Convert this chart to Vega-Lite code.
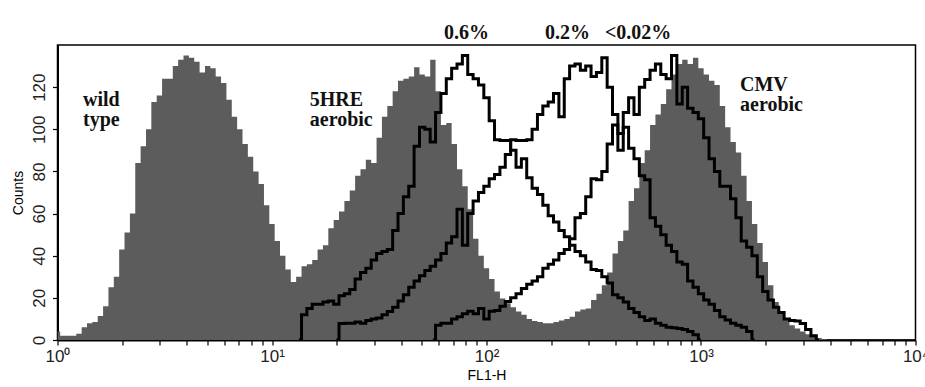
{
  "$schema": "https://vega.github.io/schema/vega-lite/v6.json",
  "width": 858,
  "height": 295,
  "autosize": {"type": "none"},
  "padding": {"left": 57.5, "top": 45, "right": 10, "bottom": 47},
  "background": "white",
  "config": {
    "view": {"stroke": "#000", "strokeWidth": 1.5},
    "axis": {
      "grid": false,
      "domainColor": "#000",
      "domainWidth": 2,
      "tickColor": "#000",
      "tickWidth": 1.2,
      "tickSize": 5,
      "labelColor": "#222",
      "labelFont": "Liberation Sans",
      "labelFontSize": 17,
      "titleFont": "Liberation Sans",
      "titleFontSize": 14,
      "titleFontWeight": "normal",
      "titleColor": "#000",
      "labelOverlap": false,
      "labelFlush": false
    }
  },
  "datasets": {
    "filled": [
      {"FL1_H":1,"Counts":4},{"FL1_H":1.059,"Counts":2},{"FL1_H":1.122,"Counts":2},{"FL1_H":1.189,"Counts":2},{"FL1_H":1.259,"Counts":3},{"FL1_H":1.334,"Counts":6},{"FL1_H":1.413,"Counts":8},{"FL1_H":1.496,"Counts":8.5},{"FL1_H":1.585,"Counts":11.4},{"FL1_H":1.679,"Counts":16},
      {"FL1_H":1.778,"Counts":25},{"FL1_H":1.884,"Counts":30},{"FL1_H":1.995,"Counts":43},{"FL1_H":2.113,"Counts":51},{"FL1_H":2.239,"Counts":60},{"FL1_H":2.371,"Counts":84},{"FL1_H":2.512,"Counts":92},{"FL1_H":2.661,"Counts":100},{"FL1_H":2.818,"Counts":113},{"FL1_H":2.985,"Counts":116},
      {"FL1_H":3.162,"Counts":124},{"FL1_H":3.35,"Counts":124},{"FL1_H":3.548,"Counts":130},{"FL1_H":3.758,"Counts":133},{"FL1_H":3.981,"Counts":135},{"FL1_H":4.217,"Counts":134},{"FL1_H":4.467,"Counts":132},{"FL1_H":4.732,"Counts":127},{"FL1_H":5.012,"Counts":130},{"FL1_H":5.309,"Counts":129},
      {"FL1_H":5.623,"Counts":125},{"FL1_H":5.957,"Counts":122},{"FL1_H":6.31,"Counts":114},{"FL1_H":6.683,"Counts":106},{"FL1_H":7.079,"Counts":100},{"FL1_H":7.499,"Counts":93},{"FL1_H":7.943,"Counts":87},{"FL1_H":8.414,"Counts":80},{"FL1_H":8.913,"Counts":74},{"FL1_H":9.441,"Counts":64},
      {"FL1_H":10,"Counts":55},{"FL1_H":10.59,"Counts":47},{"FL1_H":11.22,"Counts":40},{"FL1_H":11.89,"Counts":33.5},{"FL1_H":12.59,"Counts":27.5},{"FL1_H":13.34,"Counts":30},{"FL1_H":14.13,"Counts":35},{"FL1_H":14.96,"Counts":36},{"FL1_H":15.85,"Counts":38},{"FL1_H":16.79,"Counts":43},
      {"FL1_H":17.78,"Counts":45},{"FL1_H":18.84,"Counts":53},{"FL1_H":19.95,"Counts":57},{"FL1_H":21.13,"Counts":61},{"FL1_H":22.39,"Counts":66},{"FL1_H":23.71,"Counts":71},{"FL1_H":25.12,"Counts":78},{"FL1_H":26.61,"Counts":81},{"FL1_H":28.18,"Counts":85.6},{"FL1_H":29.85,"Counts":84},
      {"FL1_H":31.62,"Counts":96},{"FL1_H":33.5,"Counts":106},{"FL1_H":35.48,"Counts":111},{"FL1_H":37.58,"Counts":118},{"FL1_H":39.81,"Counts":123},{"FL1_H":42.17,"Counts":124},{"FL1_H":44.67,"Counts":125},{"FL1_H":47.32,"Counts":129.5},{"FL1_H":50.12,"Counts":126},{"FL1_H":53.09,"Counts":125},
      {"FL1_H":56.23,"Counts":133},{"FL1_H":59.57,"Counts":118},{"FL1_H":63.1,"Counts":102},{"FL1_H":66.83,"Counts":103},{"FL1_H":70.79,"Counts":93},{"FL1_H":74.99,"Counts":81},{"FL1_H":79.43,"Counts":73},{"FL1_H":84.14,"Counts":62},{"FL1_H":89.13,"Counts":48},{"FL1_H":94.41,"Counts":40},
      {"FL1_H":100,"Counts":34},{"FL1_H":105.9,"Counts":29},{"FL1_H":112.2,"Counts":23},{"FL1_H":118.9,"Counts":19.7},{"FL1_H":125.9,"Counts":17.5},{"FL1_H":133.4,"Counts":15.5},{"FL1_H":141.3,"Counts":13.5},{"FL1_H":149.6,"Counts":12},{"FL1_H":158.5,"Counts":10},{"FL1_H":167.9,"Counts":9},
      {"FL1_H":177.8,"Counts":8.5},{"FL1_H":188.4,"Counts":8},{"FL1_H":199.5,"Counts":8},{"FL1_H":211.3,"Counts":8.5},{"FL1_H":223.9,"Counts":9.2},{"FL1_H":237.1,"Counts":10},{"FL1_H":251.2,"Counts":11},{"FL1_H":266.1,"Counts":13.5},{"FL1_H":281.8,"Counts":14.5},{"FL1_H":298.5,"Counts":15},
      {"FL1_H":316.2,"Counts":19},{"FL1_H":335,"Counts":22},{"FL1_H":354.8,"Counts":26},{"FL1_H":375.8,"Counts":32},{"FL1_H":398.1,"Counts":41},{"FL1_H":421.7,"Counts":47},{"FL1_H":446.7,"Counts":52},{"FL1_H":473.2,"Counts":66},{"FL1_H":501.2,"Counts":72},{"FL1_H":530.9,"Counts":84},
      {"FL1_H":562.3,"Counts":90},{"FL1_H":595.7,"Counts":102},{"FL1_H":631,"Counts":107},{"FL1_H":668.3,"Counts":112},{"FL1_H":707.9,"Counts":119},{"FL1_H":749.9,"Counts":126},{"FL1_H":794.3,"Counts":131},{"FL1_H":841.4,"Counts":133},{"FL1_H":891.3,"Counts":131},{"FL1_H":944.1,"Counts":134},
      {"FL1_H":1000,"Counts":129},{"FL1_H":1059,"Counts":126},{"FL1_H":1122,"Counts":123},{"FL1_H":1189,"Counts":121},{"FL1_H":1259,"Counts":111},{"FL1_H":1334,"Counts":101},{"FL1_H":1413,"Counts":94},{"FL1_H":1496,"Counts":89},{"FL1_H":1585,"Counts":78},{"FL1_H":1679,"Counts":66},
      {"FL1_H":1778,"Counts":55},{"FL1_H":1884,"Counts":46},{"FL1_H":1995,"Counts":37},{"FL1_H":2113,"Counts":26},{"FL1_H":2239,"Counts":18},{"FL1_H":2371,"Counts":13},{"FL1_H":2512,"Counts":9.5},{"FL1_H":2661,"Counts":7},{"FL1_H":2818,"Counts":5.5},{"FL1_H":2985,"Counts":4},
      {"FL1_H":3162,"Counts":2.7},{"FL1_H":3350,"Counts":1.8},{"FL1_H":3548,"Counts":1},{"FL1_H":3758,"Counts":0.3},{"FL1_H":3981,"Counts":0}
    ],
    "lines": [
      {"sample":"0.6%","FL1_H":13.34,"Counts":0},{"sample":"0.6%","FL1_H":14.13,"Counts":12},{"sample":"0.6%","FL1_H":14.96,"Counts":15},{"sample":"0.6%","FL1_H":15.85,"Counts":17},{"sample":"0.6%","FL1_H":16.79,"Counts":17},{"sample":"0.6%","FL1_H":17.78,"Counts":18},{"sample":"0.6%","FL1_H":18.84,"Counts":18.5},{"sample":"0.6%","FL1_H":19.95,"Counts":17},{"sample":"0.6%","FL1_H":21.13,"Counts":21},{"sample":"0.6%","FL1_H":22.39,"Counts":22},
      {"sample":"0.6%","FL1_H":23.71,"Counts":24},{"sample":"0.6%","FL1_H":25.12,"Counts":29},{"sample":"0.6%","FL1_H":26.61,"Counts":32},{"sample":"0.6%","FL1_H":28.18,"Counts":34},{"sample":"0.6%","FL1_H":29.85,"Counts":38},{"sample":"0.6%","FL1_H":31.62,"Counts":41},{"sample":"0.6%","FL1_H":33.5,"Counts":42},{"sample":"0.6%","FL1_H":35.48,"Counts":43},{"sample":"0.6%","FL1_H":37.58,"Counts":52},{"sample":"0.6%","FL1_H":39.81,"Counts":60},
      {"sample":"0.6%","FL1_H":42.17,"Counts":68},{"sample":"0.6%","FL1_H":44.67,"Counts":73},{"sample":"0.6%","FL1_H":47.32,"Counts":92},{"sample":"0.6%","FL1_H":50.12,"Counts":101},{"sample":"0.6%","FL1_H":53.09,"Counts":100},{"sample":"0.6%","FL1_H":56.23,"Counts":94},{"sample":"0.6%","FL1_H":59.57,"Counts":108},{"sample":"0.6%","FL1_H":63.1,"Counts":117},{"sample":"0.6%","FL1_H":66.83,"Counts":124},{"sample":"0.6%","FL1_H":70.79,"Counts":129},
      {"sample":"0.6%","FL1_H":74.99,"Counts":131},{"sample":"0.6%","FL1_H":79.43,"Counts":135},{"sample":"0.6%","FL1_H":84.14,"Counts":126},{"sample":"0.6%","FL1_H":89.13,"Counts":124},{"sample":"0.6%","FL1_H":94.41,"Counts":121},{"sample":"0.6%","FL1_H":100,"Counts":115},{"sample":"0.6%","FL1_H":105.9,"Counts":104},{"sample":"0.6%","FL1_H":112.2,"Counts":95},{"sample":"0.6%","FL1_H":118.9,"Counts":94.7},{"sample":"0.6%","FL1_H":125.9,"Counts":94.7},
      {"sample":"0.6%","FL1_H":133.4,"Counts":90},{"sample":"0.6%","FL1_H":141.3,"Counts":82},{"sample":"0.6%","FL1_H":149.6,"Counts":86},{"sample":"0.6%","FL1_H":158.5,"Counts":77},{"sample":"0.6%","FL1_H":167.9,"Counts":72},{"sample":"0.6%","FL1_H":177.8,"Counts":69},{"sample":"0.6%","FL1_H":188.4,"Counts":64},{"sample":"0.6%","FL1_H":199.5,"Counts":59},{"sample":"0.6%","FL1_H":211.3,"Counts":56},{"sample":"0.6%","FL1_H":223.9,"Counts":52},
      {"sample":"0.6%","FL1_H":237.1,"Counts":49},{"sample":"0.6%","FL1_H":251.2,"Counts":45},{"sample":"0.6%","FL1_H":266.1,"Counts":42},{"sample":"0.6%","FL1_H":281.8,"Counts":40},{"sample":"0.6%","FL1_H":298.5,"Counts":37},{"sample":"0.6%","FL1_H":316.2,"Counts":33.5},{"sample":"0.6%","FL1_H":335,"Counts":33},{"sample":"0.6%","FL1_H":354.8,"Counts":30},{"sample":"0.6%","FL1_H":375.8,"Counts":27},{"sample":"0.6%","FL1_H":398.1,"Counts":21.5},
      {"sample":"0.6%","FL1_H":421.7,"Counts":20},{"sample":"0.6%","FL1_H":446.7,"Counts":18},{"sample":"0.6%","FL1_H":473.2,"Counts":15},{"sample":"0.6%","FL1_H":501.2,"Counts":13},{"sample":"0.6%","FL1_H":530.9,"Counts":11},{"sample":"0.6%","FL1_H":562.3,"Counts":9.2},{"sample":"0.6%","FL1_H":595.7,"Counts":10},{"sample":"0.6%","FL1_H":631,"Counts":8},{"sample":"0.6%","FL1_H":668.3,"Counts":7},{"sample":"0.6%","FL1_H":707.9,"Counts":6},
      {"sample":"0.6%","FL1_H":749.9,"Counts":5.8},{"sample":"0.6%","FL1_H":794.3,"Counts":5.5},{"sample":"0.6%","FL1_H":841.4,"Counts":5},{"sample":"0.6%","FL1_H":891.3,"Counts":4},{"sample":"0.6%","FL1_H":944.1,"Counts":2.5},{"sample":"0.6%","FL1_H":1000,"Counts":0},

      {"sample":"0.2%","FL1_H":19.95,"Counts":0},{"sample":"0.2%","FL1_H":21.13,"Counts":7.8},{"sample":"0.2%","FL1_H":22.39,"Counts":8},{"sample":"0.2%","FL1_H":23.71,"Counts":8},{"sample":"0.2%","FL1_H":25.12,"Counts":8.5},{"sample":"0.2%","FL1_H":26.61,"Counts":8},{"sample":"0.2%","FL1_H":28.18,"Counts":9.2},{"sample":"0.2%","FL1_H":29.85,"Counts":10},{"sample":"0.2%","FL1_H":31.62,"Counts":10.5},{"sample":"0.2%","FL1_H":33.5,"Counts":12},
      {"sample":"0.2%","FL1_H":35.48,"Counts":13.5},{"sample":"0.2%","FL1_H":37.58,"Counts":15.5},{"sample":"0.2%","FL1_H":39.81,"Counts":18.5},{"sample":"0.2%","FL1_H":42.17,"Counts":21.5},{"sample":"0.2%","FL1_H":44.67,"Counts":25},{"sample":"0.2%","FL1_H":47.32,"Counts":28},{"sample":"0.2%","FL1_H":50.12,"Counts":30.5},{"sample":"0.2%","FL1_H":53.09,"Counts":33},{"sample":"0.2%","FL1_H":56.23,"Counts":35},{"sample":"0.2%","FL1_H":59.57,"Counts":38},
      {"sample":"0.2%","FL1_H":63.1,"Counts":41},{"sample":"0.2%","FL1_H":66.83,"Counts":46},{"sample":"0.2%","FL1_H":70.79,"Counts":49},{"sample":"0.2%","FL1_H":74.99,"Counts":62},{"sample":"0.2%","FL1_H":79.43,"Counts":45},{"sample":"0.2%","FL1_H":84.14,"Counts":60},{"sample":"0.2%","FL1_H":89.13,"Counts":66},{"sample":"0.2%","FL1_H":94.41,"Counts":70},{"sample":"0.2%","FL1_H":100,"Counts":73},{"sample":"0.2%","FL1_H":105.9,"Counts":76.5},
      {"sample":"0.2%","FL1_H":112.2,"Counts":78.5},{"sample":"0.2%","FL1_H":118.9,"Counts":82},{"sample":"0.2%","FL1_H":125.9,"Counts":88},{"sample":"0.2%","FL1_H":133.4,"Counts":95},{"sample":"0.2%","FL1_H":141.3,"Counts":94.7},{"sample":"0.2%","FL1_H":149.6,"Counts":94.7},{"sample":"0.2%","FL1_H":158.5,"Counts":95},{"sample":"0.2%","FL1_H":167.9,"Counts":100},{"sample":"0.2%","FL1_H":177.8,"Counts":107},{"sample":"0.2%","FL1_H":188.4,"Counts":111},
      {"sample":"0.2%","FL1_H":199.5,"Counts":113},{"sample":"0.2%","FL1_H":211.3,"Counts":117},{"sample":"0.2%","FL1_H":223.9,"Counts":106},{"sample":"0.2%","FL1_H":237.1,"Counts":124},{"sample":"0.2%","FL1_H":251.2,"Counts":130},{"sample":"0.2%","FL1_H":266.1,"Counts":131},{"sample":"0.2%","FL1_H":281.8,"Counts":128},{"sample":"0.2%","FL1_H":298.5,"Counts":130},{"sample":"0.2%","FL1_H":316.2,"Counts":125},{"sample":"0.2%","FL1_H":335,"Counts":127},
      {"sample":"0.2%","FL1_H":354.8,"Counts":134},{"sample":"0.2%","FL1_H":375.8,"Counts":120},{"sample":"0.2%","FL1_H":398.1,"Counts":107},{"sample":"0.2%","FL1_H":421.7,"Counts":98},{"sample":"0.2%","FL1_H":446.7,"Counts":101},{"sample":"0.2%","FL1_H":473.2,"Counts":91},{"sample":"0.2%","FL1_H":501.2,"Counts":86},{"sample":"0.2%","FL1_H":530.9,"Counts":78},{"sample":"0.2%","FL1_H":562.3,"Counts":76},{"sample":"0.2%","FL1_H":595.7,"Counts":58},
      {"sample":"0.2%","FL1_H":631,"Counts":54},{"sample":"0.2%","FL1_H":668.3,"Counts":50},{"sample":"0.2%","FL1_H":707.9,"Counts":45},{"sample":"0.2%","FL1_H":749.9,"Counts":42},{"sample":"0.2%","FL1_H":794.3,"Counts":37},{"sample":"0.2%","FL1_H":841.4,"Counts":36},{"sample":"0.2%","FL1_H":891.3,"Counts":28},{"sample":"0.2%","FL1_H":944.1,"Counts":25},{"sample":"0.2%","FL1_H":1000,"Counts":22},{"sample":"0.2%","FL1_H":1059,"Counts":19},
      {"sample":"0.2%","FL1_H":1122,"Counts":17},{"sample":"0.2%","FL1_H":1189,"Counts":14},{"sample":"0.2%","FL1_H":1259,"Counts":11},{"sample":"0.2%","FL1_H":1334,"Counts":9.5},{"sample":"0.2%","FL1_H":1413,"Counts":8},{"sample":"0.2%","FL1_H":1496,"Counts":7},{"sample":"0.2%","FL1_H":1585,"Counts":6},{"sample":"0.2%","FL1_H":1679,"Counts":4},{"sample":"0.2%","FL1_H":1778,"Counts":0},

      {"sample":"<0.02%","FL1_H":56.23,"Counts":0},{"sample":"<0.02%","FL1_H":59.57,"Counts":7},{"sample":"<0.02%","FL1_H":63.1,"Counts":8},{"sample":"<0.02%","FL1_H":66.83,"Counts":8},{"sample":"<0.02%","FL1_H":70.79,"Counts":10},{"sample":"<0.02%","FL1_H":74.99,"Counts":11},{"sample":"<0.02%","FL1_H":79.43,"Counts":12.4},{"sample":"<0.02%","FL1_H":84.14,"Counts":13.7},{"sample":"<0.02%","FL1_H":89.13,"Counts":12.5},{"sample":"<0.02%","FL1_H":94.41,"Counts":15},
      {"sample":"<0.02%","FL1_H":100,"Counts":10},{"sample":"<0.02%","FL1_H":105.9,"Counts":13.7},{"sample":"<0.02%","FL1_H":112.2,"Counts":14},{"sample":"<0.02%","FL1_H":118.9,"Counts":16},{"sample":"<0.02%","FL1_H":125.9,"Counts":18.3},{"sample":"<0.02%","FL1_H":133.4,"Counts":20},{"sample":"<0.02%","FL1_H":141.3,"Counts":22},{"sample":"<0.02%","FL1_H":149.6,"Counts":24.5},{"sample":"<0.02%","FL1_H":158.5,"Counts":26.5},{"sample":"<0.02%","FL1_H":167.9,"Counts":28},
      {"sample":"<0.02%","FL1_H":177.8,"Counts":30},{"sample":"<0.02%","FL1_H":188.4,"Counts":34},{"sample":"<0.02%","FL1_H":199.5,"Counts":36},{"sample":"<0.02%","FL1_H":211.3,"Counts":38},{"sample":"<0.02%","FL1_H":223.9,"Counts":41},{"sample":"<0.02%","FL1_H":237.1,"Counts":43},{"sample":"<0.02%","FL1_H":251.2,"Counts":48},{"sample":"<0.02%","FL1_H":266.1,"Counts":58},{"sample":"<0.02%","FL1_H":281.8,"Counts":60},{"sample":"<0.02%","FL1_H":298.5,"Counts":68},
      {"sample":"<0.02%","FL1_H":316.2,"Counts":76.5},{"sample":"<0.02%","FL1_H":335,"Counts":76},{"sample":"<0.02%","FL1_H":354.8,"Counts":80},{"sample":"<0.02%","FL1_H":375.8,"Counts":93},{"sample":"<0.02%","FL1_H":398.1,"Counts":102},{"sample":"<0.02%","FL1_H":421.7,"Counts":90},{"sample":"<0.02%","FL1_H":446.7,"Counts":108},{"sample":"<0.02%","FL1_H":473.2,"Counts":115},{"sample":"<0.02%","FL1_H":501.2,"Counts":107},{"sample":"<0.02%","FL1_H":530.9,"Counts":120},
      {"sample":"<0.02%","FL1_H":562.3,"Counts":123.6},{"sample":"<0.02%","FL1_H":595.7,"Counts":128},{"sample":"<0.02%","FL1_H":631,"Counts":131},{"sample":"<0.02%","FL1_H":668.3,"Counts":126},{"sample":"<0.02%","FL1_H":707.9,"Counts":124},{"sample":"<0.02%","FL1_H":749.9,"Counts":135},{"sample":"<0.02%","FL1_H":794.3,"Counts":112},{"sample":"<0.02%","FL1_H":841.4,"Counts":120},{"sample":"<0.02%","FL1_H":891.3,"Counts":110},{"sample":"<0.02%","FL1_H":944.1,"Counts":108},
      {"sample":"<0.02%","FL1_H":1000,"Counts":105},{"sample":"<0.02%","FL1_H":1059,"Counts":96},{"sample":"<0.02%","FL1_H":1122,"Counts":86},{"sample":"<0.02%","FL1_H":1189,"Counts":80},{"sample":"<0.02%","FL1_H":1259,"Counts":73},{"sample":"<0.02%","FL1_H":1334,"Counts":73},{"sample":"<0.02%","FL1_H":1413,"Counts":67},{"sample":"<0.02%","FL1_H":1496,"Counts":58},{"sample":"<0.02%","FL1_H":1585,"Counts":47},{"sample":"<0.02%","FL1_H":1679,"Counts":44},
      {"sample":"<0.02%","FL1_H":1778,"Counts":40},{"sample":"<0.02%","FL1_H":1884,"Counts":30},{"sample":"<0.02%","FL1_H":1995,"Counts":23},{"sample":"<0.02%","FL1_H":2113,"Counts":19},{"sample":"<0.02%","FL1_H":2239,"Counts":15.5},{"sample":"<0.02%","FL1_H":2371,"Counts":13},{"sample":"<0.02%","FL1_H":2512,"Counts":10},{"sample":"<0.02%","FL1_H":2661,"Counts":9.2},{"sample":"<0.02%","FL1_H":2818,"Counts":9},{"sample":"<0.02%","FL1_H":2985,"Counts":7.8},
      {"sample":"<0.02%","FL1_H":3162,"Counts":5},{"sample":"<0.02%","FL1_H":3350,"Counts":2},{"sample":"<0.02%","FL1_H":3548,"Counts":0}
    ],
    "labels": [
      {"text":"wild","FL1_H":1.315,"Counts":111.2},
      {"text":"type","FL1_H":1.315,"Counts":101.6},
      {"text":"5HRE","FL1_H":15.0,"Counts":111.2},
      {"text":"aerobic","FL1_H":15.0,"Counts":101.6},
      {"text":"CMV","FL1_H":1520,"Counts":118.1},
      {"text":"aerobic","FL1_H":1520,"Counts":108.5},
      {"text":"0.6%","FL1_H":63.4,"Counts":142.8},
      {"text":"0.2%","FL1_H":187.5,"Counts":142.8},
      {"text":"<0.02%","FL1_H":356.6,"Counts":142.8}
    ]
  },
  "layer": [
    {
      "data": {"name": "filled"},
      "mark": {"type": "area", "interpolate": "step", "color": "#5c5c5c", "opacity": 1, "clip": true},
      "encoding": {
        "x": {
          "field": "FL1_H", "type": "quantitative",
          "scale": {"type": "log", "domain": [1, 10000]},
          "axis": {
            "title": "FL1-H",
            "values": [1,2,3,4,5,6,7,8,9,10,20,30,40,50,60,70,80,90,100,200,300,400,500,600,700,800,900,1000,2000,3000,4000,5000,6000,7000,8000,9000,10000],
            "labelExpr": "indexof([1,10,100,1000,10000], datum.value) >= 0 ? '10' + ['⁰','¹','²','³','⁴'][round(log(datum.value)/LN10)] : ''",
            "labelPadding": 3,
            "titlePadding": 4
          }
        },
        "y": {
          "field": "Counts", "type": "quantitative",
          "scale": {"domain": [0, 135]},
          "axis": {
            "title": "Counts",
            "values": [0,5,10,15,20,25,30,35,40,45,50,55,60,65,70,75,80,85,90,95,100,105,110,115,120,125,130,135],
            "labelExpr": "datum.value % 20 == 0 ? datum.label : ''",
            "labelAngle": 270,
            "labelAlign": "center",
            "labelBaseline": "bottom",
            "labelPadding": 4,
            "titlePadding": 5
          }
        }
      }
    },
    {
      "data": {"name": "lines"},
      "mark": {"type": "line", "interpolate": "step", "color": "#000", "strokeWidth": 3, "clip": true},
      "encoding": {
        "x": {"field": "FL1_H", "type": "quantitative"},
        "y": {"field": "Counts", "type": "quantitative"},
        "detail": {"field": "sample", "type": "nominal"}
      }
    },
    {
      "data": {"name": "labels"},
      "mark": {"type": "text", "font": "Liberation Serif", "fontWeight": "bold", "fontSize": 20, "align": "left", "baseline": "alphabetic", "color": "#111"},
      "encoding": {
        "x": {"field": "FL1_H", "type": "quantitative"},
        "y": {"field": "Counts", "type": "quantitative"},
        "text": {"field": "text", "type": "nominal"}
      }
    }
  ]
}
